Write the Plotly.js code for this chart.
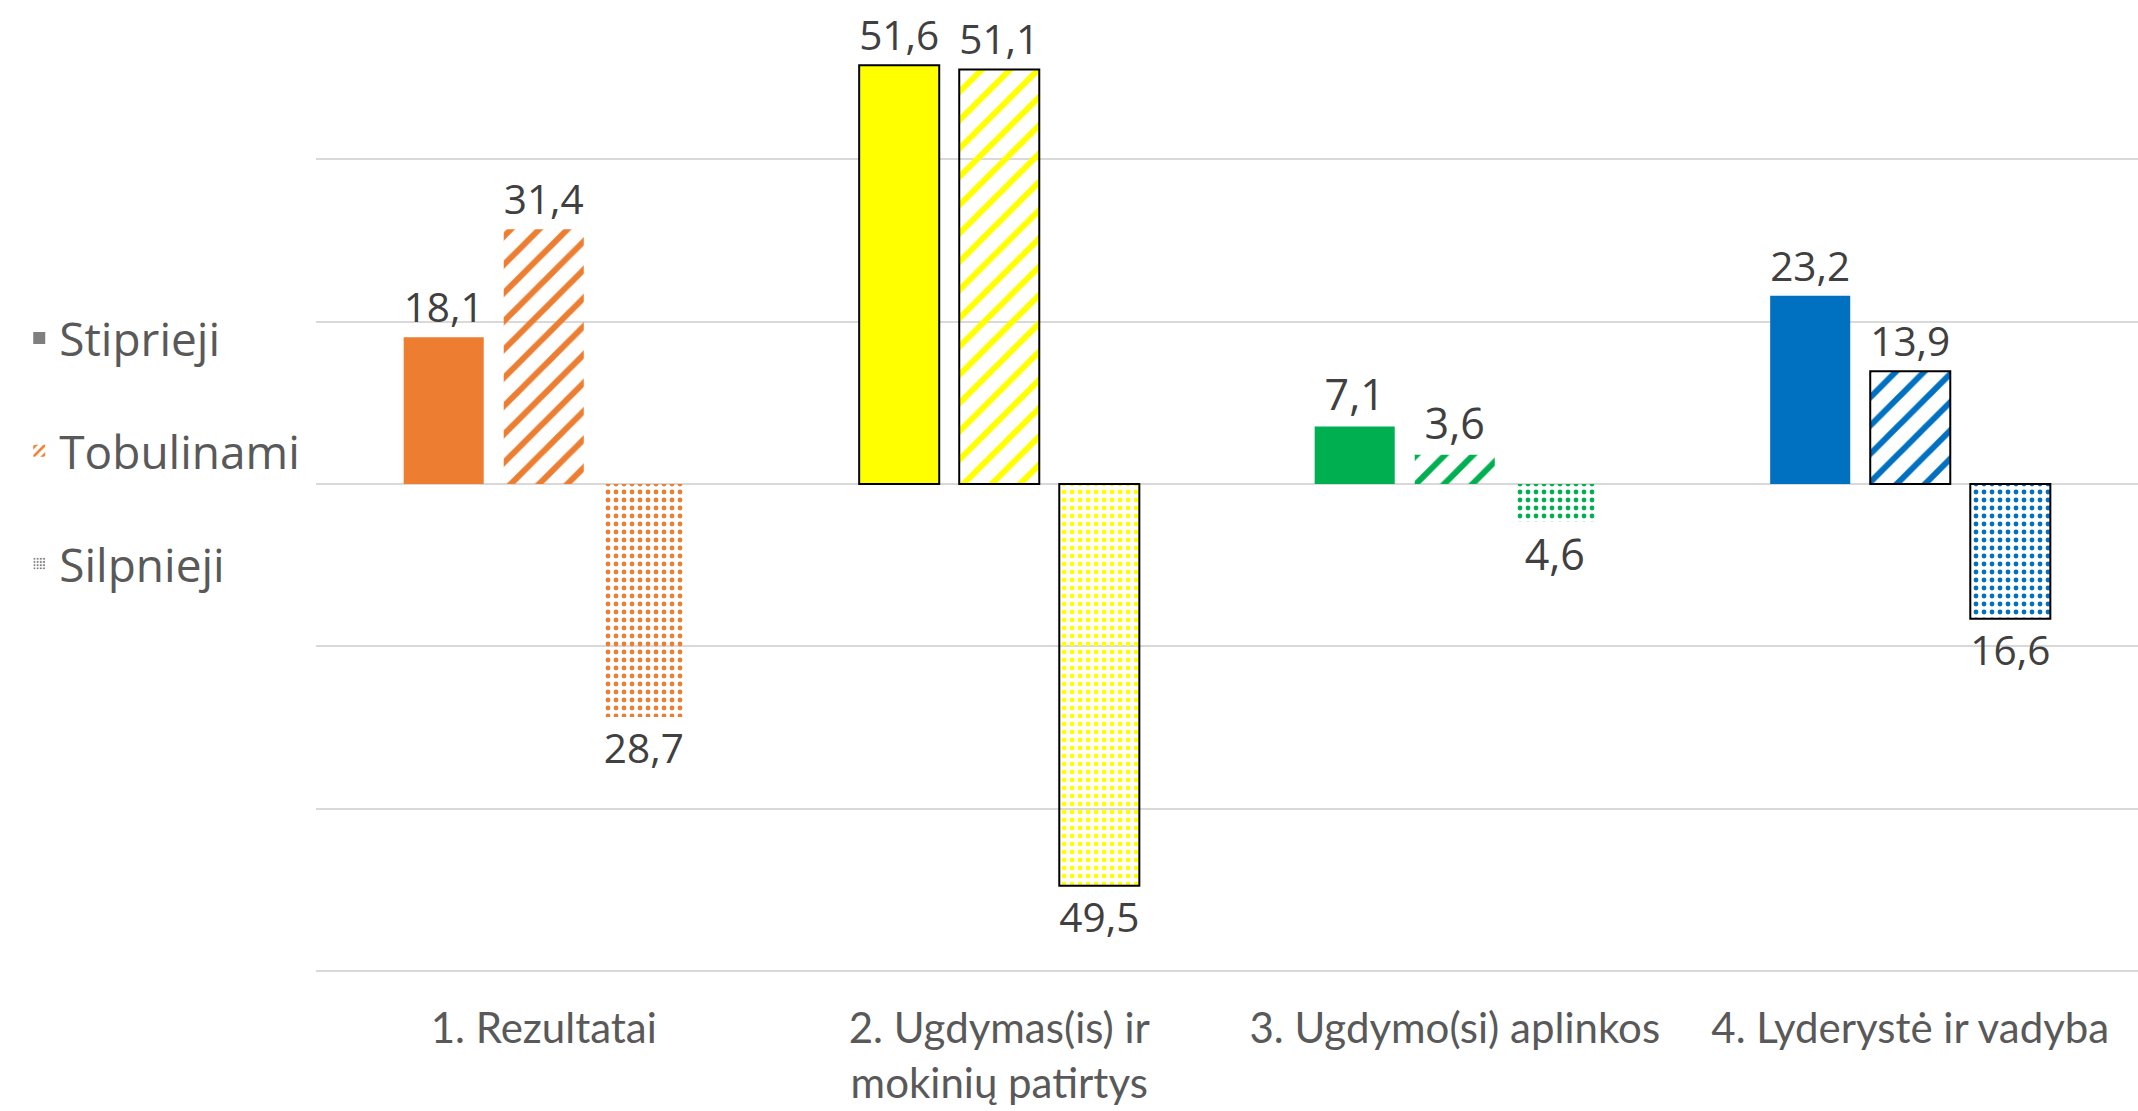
<!DOCTYPE html>
<html>
<head>
<meta charset="utf-8">
<script src="https://cdn.plot.ly/plotly-3.0.1.min.js"></script>
<style>
  html, body { margin: 0; padding: 0; background: #ffffff; }
  #chart { width: 2138px; height: 1111px; }
</style>
</head>
<body>
<div id="chart"></div>
<script>
// ---- data ----
const categories = ['1. Rezultatai', '2. Ugdymas(is) ir<br>mokinių patirtys', '3. Ugdymo(si) aplinkos', '4. Lyderystė ir vadyba'];
const seriesNames = ['Stiprieji', 'Tobulinami', 'Silpnieji'];
const stiprieji = [18.1, 51.6, 7.1, 23.2];
const tobulinami = [31.4, 51.1, 3.6, 13.9];
const silpnieji = [28.7, 49.5, 4.6, 16.6];   // drawn downward
const categoryColors = ['#ED7D31', '#FFFF00', '#00B050', '#0070C0'];
const outlineStiprieji = [false, true, false, false];
const outlineTobulinami = [false, true, false, true];
const outlineSilpnieji = [false, true, false, true];

// ---- helpers ----
const fmt = v => Math.abs(v).toFixed(1).replace('.', ',');
const lineColors = arr => arr.map(o => o ? '#000000' : 'rgba(0,0,0,0)');
const lineWidths = arr => arr.map(o => o ? 2 : 0);
const labelFont = { family: 'Open Sans, sans-serif', size: 43, color: '#404040' };

const traces = [];

// real series (hidden from legend)
traces.push({
  type: 'bar', x: categories, y: stiprieji, name: seriesNames[0],
  offsetgroup: 'a', legendgroup: 'a', showlegend: false,
  marker: { color: categoryColors, line: { color: lineColors(outlineStiprieji), width: lineWidths(outlineStiprieji) } },
  text: stiprieji.map(fmt), textposition: 'outside', textfont: labelFont, cliponaxis: false,
  hovertemplate: '%{x}: %{text}<extra>' + seriesNames[0] + '</extra>'
});
traces.push({
  type: 'bar', x: categories, y: tobulinami, name: seriesNames[1],
  offsetgroup: 'b', legendgroup: 'b', showlegend: false,
  marker: {
    color: categoryColors,
    line: { color: lineColors(outlineTobulinami), width: lineWidths(outlineTobulinami) },
    pattern: { shape: '/', fgcolor: categoryColors, bgcolor: '#ffffff', size: 20, solidity: 0.3, fillmode: 'replace' }
  },
  text: tobulinami.map(fmt), textposition: 'outside', textfont: labelFont, cliponaxis: false,
  hovertemplate: '%{x}: %{text}<extra>' + seriesNames[1] + '</extra>'
});
traces.push({
  type: 'bar', x: categories, y: silpnieji.map(v => -v), name: seriesNames[2],
  offsetgroup: 'c', legendgroup: 'c', showlegend: false,
  marker: {
    color: categoryColors,
    line: { color: lineColors(outlineSilpnieji), width: lineWidths(outlineSilpnieji) },
    pattern: { shape: '.', fgcolor: categoryColors, bgcolor: '#ffffff', size: 8, solidity: 0.28, fillmode: 'replace' }
  },
  text: silpnieji.map(fmt), textposition: 'outside', textfont: labelFont, cliponaxis: false,
  hovertemplate: '%{x}: %{text}<extra>' + seriesNames[2] + '</extra>'
});

// legend entries (no data, share slots with the real series)
const nulls = categories.map(() => null);
traces.push({ type: 'bar', x: categories, y: nulls, name: seriesNames[0], offsetgroup: 'a', legendgroup: 'a',
  marker: { color: '#7F7F7F' }, hoverinfo: 'skip' });
traces.push({ type: 'bar', x: categories, y: nulls, name: seriesNames[1], offsetgroup: 'b', legendgroup: 'b',
  marker: { color: '#ED7D31', pattern: { shape: '/', fgcolor: '#ED7D31', bgcolor: '#ffffff', size: 8, solidity: 0.4 } }, hoverinfo: 'skip' });
traces.push({ type: 'bar', x: categories, y: nulls, name: seriesNames[2], offsetgroup: 'c', legendgroup: 'c',
  marker: { color: '#7F7F7F', pattern: { shape: '.', fgcolor: '#7F7F7F', bgcolor: '#ffffff', size: 4, solidity: 0.35 } }, hoverinfo: 'skip' });

const layout = {
  width: 2138, height: 1111,
  paper_bgcolor: '#ffffff', plot_bgcolor: '#ffffff',
  margin: { l: 316, r: 0, t: 0, b: 138, pad: 0 },
  barmode: 'group', bargap: 0.341, bargroupgap: 0.2,
  showlegend: true,
  legend: {
    xref: 'container', yref: 'container', x: 0.009, y: 0.594, xanchor: 'left', yanchor: 'middle',
    orientation: 'v', traceorder: 'grouped', tracegroupgap: 50,
    font: { family: 'Open Sans, sans-serif', size: 46, color: '#595959' },
    bgcolor: 'rgba(0,0,0,0)'
  },
  xaxis: {
    type: 'category', showgrid: false, zeroline: false, showline: false, ticks: '',
    tickfont: { family: 'Lato, sans-serif', size: 42, color: '#595959' },
    ticklabelstandoff: 27, fixedrange: true
  },
  yaxis: {
    range: [-60.25, 59.65], dtick: 20, tick0: 0, showticklabels: false, ticks: '',
    showgrid: true, gridcolor: '#D9D9D9', gridwidth: 2,
    zeroline: true, zerolinecolor: '#D9D9D9', zerolinewidth: 2, showline: false, fixedrange: true
  },
  font: { family: 'Open Sans, sans-serif', color: '#595959' }
};

Plotly.newPlot('chart', traces, layout, { displayModeBar: false, staticPlot: false });
</script>
</body>
</html>
